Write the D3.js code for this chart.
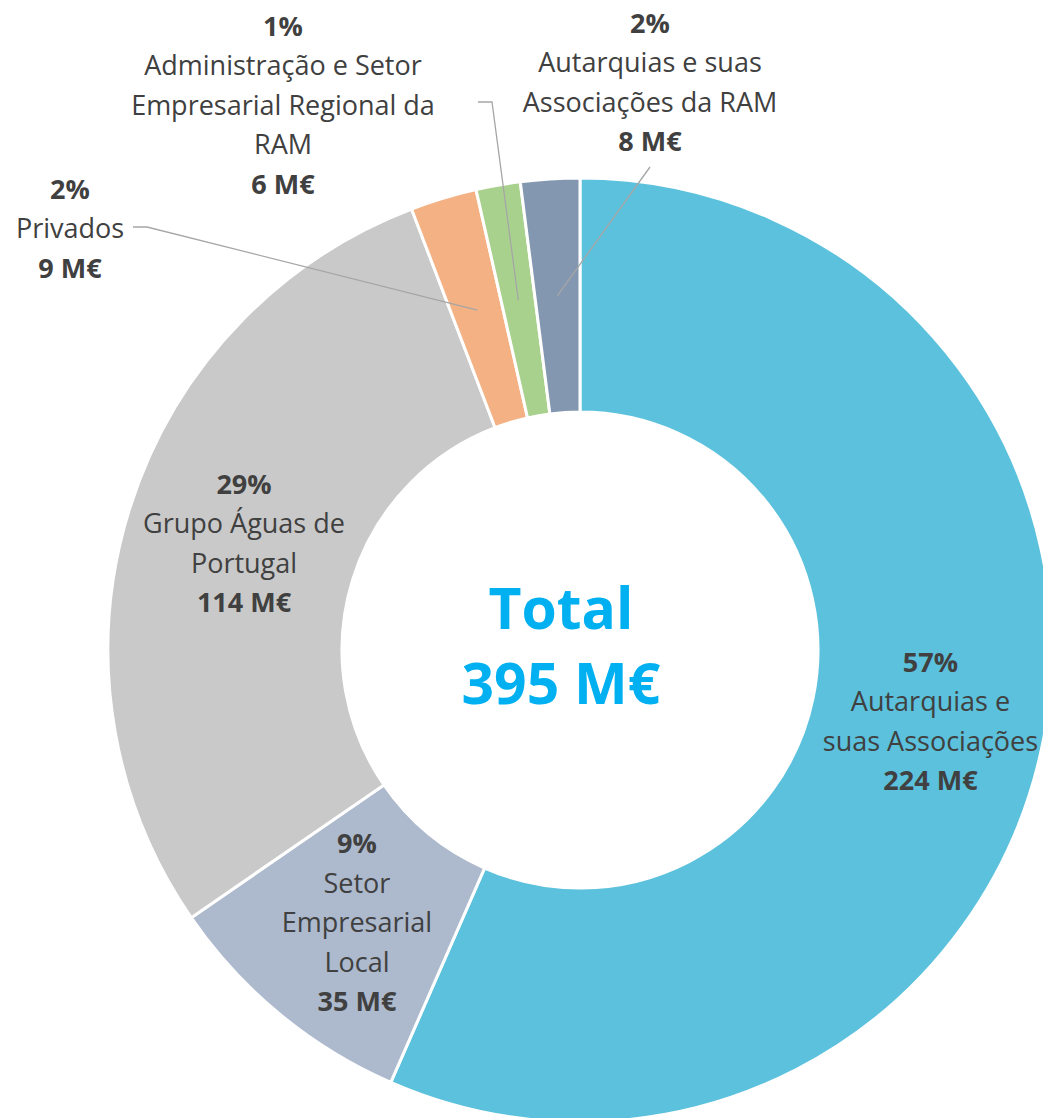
<!DOCTYPE html>
<html lang="pt">
<head>
<meta charset="utf-8">
<title>Total 395 M€</title>
<script src="https://cdn.jsdelivr.net/npm/d3@7"></script>
<style>
  body { margin: 0; background: #fff; }
  text { font-family: "Open Sans", Calibri, sans-serif; }
</style>
</head>
<body>
<script>
// data
var names = [
  ["Autarquias e", "suas Associações"],
  ["Setor", "Empresarial", "Local"],
  ["Grupo Águas de", "Portugal"],
  ["Privados"],
  ["Administração e Setor", "Empresarial Regional da", "RAM"],
  ["Autarquias e suas", "Associações da RAM"]
];
var values = [224, 35, 114, 9, 6, 8];
var percents = ["57%", "9%", "29%", "2%", "1%", "2%"];
var valueLabels = ["224 M€", "35 M€", "114 M€", "9 M€", "6 M€", "8 M€"];
var colors = ["#5bc1dc", "#adb9cc", "#c9c9c9", "#f4b183", "#a9d18e", "#8497b0"];
var totalLabel = ["Total", "395 M€"];

var width = 1043, height = 1118;
var cx = 580, cy = 650;
var outerR = 472, innerR = 238;
var lineH = 39.5;

var svg = d3.select("body").append("svg")
    .attr("width", width)
    .attr("height", height);

var g = svg.append("g")
    .attr("transform", "translate(" + cx + "," + cy + ")");

var pie = d3.pie().sort(null).value(function (d) { return d; });
var arcs = pie(values);
var arc = d3.arc().innerRadius(innerR).outerRadius(outerR);

g.selectAll("path.slice")
  .data(arcs)
  .enter()
  .append("path")
  .attr("class", "slice")
  .attr("d", arc)
  .attr("fill", function (d, i) { return colors[i]; })
  .attr("stroke", "#fff")
  .attr("stroke-width", 3);

// label lines for one slice: percent (bold), name lines, value (bold)
function labelLines(i) {
  var out = [{ t: percents[i], b: true }];
  names[i].forEach(function (n) { out.push({ t: n, b: false }); });
  out.push({ t: valueLabels[i], b: true });
  return out;
}

function drawLabel(i, x, yTop) {
  var lines = labelLines(i);
  var t = svg.append("text")
      .attr("text-anchor", "middle")
      .attr("fill", "#404040")
      .attr("font-size", "27px");
  lines.forEach(function (l, k) {
    t.append("tspan")
      .attr("x", x)
      .attr("y", yTop + k * lineH)
      .attr("dominant-baseline", "central")
      .attr("font-weight", l.b ? "bold" : "normal")
      .text(l.t);
  });
}

// inside labels centred on the arc centroid
var labelArc = d3.arc().innerRadius(innerR).outerRadius(outerR);
[0, 1, 2].forEach(function (i) {
  var c = labelArc.centroid(arcs[i]);
  var n = labelLines(i).length;
  drawLabel(i, cx + c[0] + 3, cy + c[1] - (n - 1) * lineH / 2 - 2);
});

// outside labels with leader lines to the centroid
var outside = [
  { i: 3, x: 70, y: 188, lead: [[133, 227], [147, 227]] },
  { i: 4, x: 283, y: 25, lead: [[478, 102], [492, 102]] },
  { i: 5, x: 650, y: 22, lead: [[650, 167]] }
];
outside.forEach(function (o) {
  drawLabel(o.i, o.x, o.y);
  var c = labelArc.centroid(arcs[o.i]);
  var pts = o.lead.concat([[cx + c[0], cy + c[1]]]);
  svg.append("path")
    .attr("d", d3.line()(pts))
    .attr("fill", "none")
    .attr("stroke", "#a6a6a6")
    .attr("stroke-width", 1.3);
});

// centre total
[607, 682].forEach(function (y, k) {
  svg.append("text")
    .attr("x", cx - 19)
    .attr("y", y)
    .attr("text-anchor", "middle")
    .attr("dominant-baseline", "central")
    .attr("fill", "#00b0f0")
    .attr("font-weight", "bold")
    .attr("font-size", "57px")
    .text(totalLabel[k]);
});
</script>
</body>
</html>
